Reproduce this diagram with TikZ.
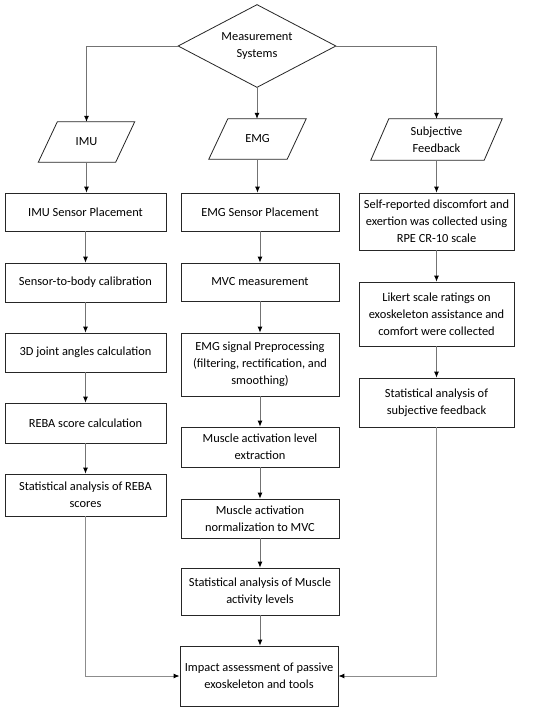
\documentclass[tikz,border=0pt]{standalone}
\usepackage{fontspec}
\setmainfont{Carlito}
\usetikzlibrary{shapes.geometric,arrows.meta}
\begin{document}
\begin{tikzpicture}[x=1pt,y=-1pt,
  every node/.style={font=\fontsize{12.4}{17}\selectfont, align=center},
  box/.style={draw=black!85, line width=0.8pt, inner sep=2pt},
  lbox/.style={box, minimum width=161pt},
  mbox/.style={box, minimum width=158pt},
  rbox/.style={box, minimum width=155pt},
  plain/.style={inner sep=0pt},
  conn/.style={draw=black!55, line width=0.8pt, -{Latex[length=6pt,width=5pt,fill=black,color=black]}},
  side/.style={draw=black!45, line width=1pt, -{Latex[length=6pt,width=5pt,fill=black,color=black]}}
]
\useasboundingbox (0,0) rectangle (550,712);
\fill[white] (0,0) rectangle (550,712);

% decision
\node[draw=black!85, line width=0.8pt, shape=diamond, aspect=1.9, inner sep=0pt,
      minimum width=158pt, minimum height=83pt] (ms) at (257,46) {Measurement\\Systems};

% input parallelograms (drawn from plain text nodes)
\node[plain, minimum width=77pt, minimum height=40pt] (imu) at (86.5,142) {IMU};
\node[plain, minimum width=78pt, minimum height=40pt] (emg) at (257.5,139) {EMG};
\node[plain, minimum width=113pt, minimum height=41pt] (subj) at (436.5,139.5) {Subjective\\Feedback};
\foreach \n/\s in {imu/9.5, emg/9.5, subj/9}{
  \draw[black!85, line width=0.8pt]
    ([xshift=-\s pt]\n.south west) -- ([xshift=\s pt]\n.north west) --
    ([xshift=\s pt]\n.north east) -- ([xshift=-\s pt]\n.south east) -- cycle;
}

% left column
\node[lbox, minimum height=38pt] (imusp) at (85.5,212) {IMU Sensor Placement};
\node[lbox, minimum height=39pt] (s2b) at (85.5,282.5) {Sensor-to-body calibration};
\node[lbox, minimum height=39pt] (j3d) at (85.5,352.5) {3D joint angles calculation};
\node[lbox, minimum height=40pt] (reba) at (85.5,423) {REBA score calculation};
\node[lbox, minimum height=42pt] (sreba) at (85.5,495) {Statistical analysis of REBA\\scores};

% middle column
\node[mbox, minimum height=38pt] (emgsp) at (260,212) {EMG Sensor Placement};
\node[mbox, minimum height=38pt] (mvc) at (260,282) {MVC measurement};
\node[mbox, minimum height=63pt] (prep) at (260,364.5) {EMG signal Preprocessing\\(filtering, rectification, and\\smoothing)};
\node[mbox, minimum height=40pt] (mal) at (260,447) {Muscle activation level\\extraction};
\node[mbox, minimum height=39pt] (man) at (260,518.5) {Muscle activation\\normalization to MVC};
\node[mbox, minimum height=47pt] (smus) at (260,591.5) {Statistical analysis of Muscle\\activity levels};
\node[mbox, minimum height=60pt] (impact) at (259,676) {Impact assessment of passive\\exoskeleton and tools};

% right column
\node[rbox, minimum height=57pt] (self) at (436.5,221.5) {Self-reported discomfort and\\exertion was collected using\\RPE CR-10 scale};
\node[rbox, minimum height=64pt] (likert) at (436.5,314) {Likert scale ratings on\\exoskeleton assistance and\\comfort were collected};
\node[rbox, minimum height=49pt] (ssub) at (436.5,402.5) {Statistical analysis of\\subjective feedback};

% connectors from decision
\draw[conn] (ms.west) -| (imu.north);
\draw[conn] (ms.south) -- (ms.south |- emg.north);
\draw[conn] (ms.east) -| (subj.north);

% left chain
\draw[conn] (imu.south) -- (imu.south |- imusp.north);
\draw[conn] (imusp.south) -- (s2b.north);
\draw[conn] (s2b.south) -- (j3d.north);
\draw[conn] (j3d.south) -- (reba.north);
\draw[conn] (reba.south) -- (sreba.north);

% middle chain
\draw[conn] (emg.south) -- (emg.south |- emgsp.north);
\draw[conn] (emgsp.south) -- (mvc.north);
\draw[conn] (mvc.south) -- (prep.north);
\draw[conn] (prep.south) -- (mal.north);
\draw[conn] (mal.south) -- (man.north);
\draw[conn] (man.south) -- (smus.north);
\draw[conn] (smus.south) -- (smus.south |- impact.north);

% right chain
\draw[conn] (subj.south) -- (subj.south |- self.north);
\draw[conn] (self.south) -- (likert.north);
\draw[conn] (likert.south) -- (ssub.north);

% side connectors to impact
\draw[side] (sreba.south) |- (impact.west);
\draw[side] (ssub.south) |- (impact.east);
\end{tikzpicture}
\end{document}
